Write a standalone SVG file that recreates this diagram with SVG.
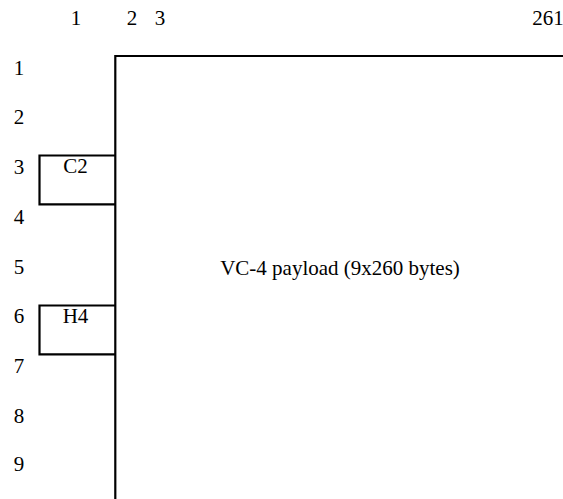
<svg xmlns="http://www.w3.org/2000/svg" width="563" height="499" viewBox="0 0 563 499">
<style>
text{font-family:'Liberation Serif','Tinos','DejaVu Serif',serif;font-size:21px;fill:#000}
.c{text-anchor:middle}
.ln{fill:none;stroke:#000;stroke-width:2.2}
</style>
<rect width="563" height="499" fill="#fff"/>
<g id="col-labels">
<text class="c" x="76" y="25">1</text>
<text class="c" x="132" y="25">2</text>
<text class="c" x="160" y="25">3</text>
<text class="c" x="548" y="25">261</text>
</g>
<g id="row-labels">
<text class="c" x="19" y="75">1</text>
<text class="c" x="19" y="124">2</text>
<text class="c" x="19" y="174">3</text>
<text class="c" x="19" y="224">4</text>
<text class="c" x="19" y="274">5</text>
<text class="c" x="19" y="323">6</text>
<text class="c" x="19" y="373">7</text>
<text class="c" x="19" y="423">8</text>
<text class="c" x="19" y="471">9</text>
</g>
<g id="payload">
<path class="ln" d="M115.3 499 V56 H563"/>
<text class="c" x="340" y="275">VC-4 payload (9x260 bytes)</text>
</g>
<g id="c2">
<path class="ln" d="M115.3 155.5 H39.5 V204.3 H115.3"/>
<text class="c" x="75.5" y="173">C2</text>
</g>
<g id="h4">
<path class="ln" d="M115.3 305.5 H39.5 V354.3 H115.3"/>
<text class="c" x="75.5" y="323">H4</text>
</g>
<g id="connectors"/>
</svg>
